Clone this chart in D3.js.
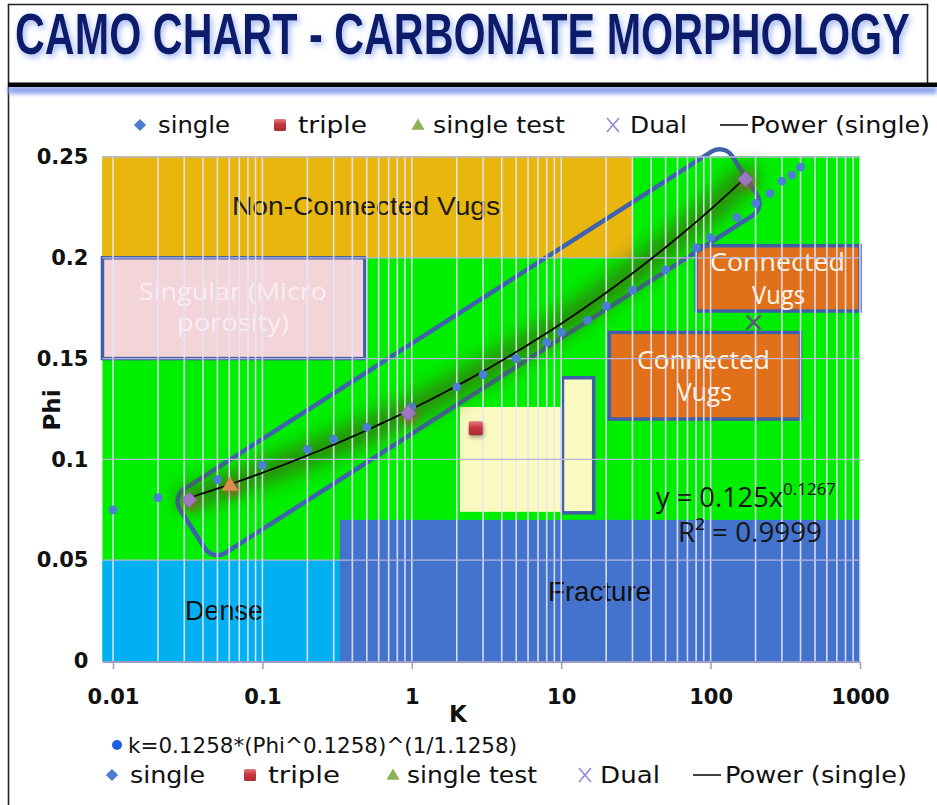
<!DOCTYPE html>
<html><head><meta charset="utf-8">
<script src="https://cdn.jsdelivr.net/npm/d3@7"></script>
<style>body{margin:0;background:#fff;overflow:hidden} svg{display:block}</style>
</head><body>
<script>
// ---------------- data ----------------
const xTicks = [0.01, 0.1, 1, 10, 100, 1000];
const xTickLabels = ["0.01", "0.1", "1", "10", "100", "1000"];
const yTicks = [0, 0.05, 0.1, 0.15, 0.2, 0.25];
const yTickLabels = ["0", "0.05", "0.1", "0.15", "0.2", "0.25"];

// k=0.1258*(Phi^0.1258)^(1/1.1258) series (blue dots)
const curveK   = [0.01, 0.02, 0.05, 0.1, 0.2, 0.3, 0.5, 1, 2, 3, 5, 8, 10, 15, 20, 30, 50, 80, 100, 150, 200, 250, 300, 350, 400];
const curvePhi = [0.075, 0.081, 0.090, 0.097, 0.105, 0.110, 0.116, 0.126, 0.136, 0.142, 0.150, 0.158, 0.163, 0.169, 0.176, 0.184, 0.194, 0.205, 0.210, 0.220, 0.227, 0.232, 0.238, 0.241, 0.245];

const singleK = [0.0324, 0.945, 171];
const singlePhi = [0.080, 0.123, 0.239];
const tripleK = [2.68];
const triplePhi = [0.1154];
const testK = [0.0607];
const testPhi = [0.0868];
const dualK = [194];
const dualPhi = [0.168];

// Power (single) trendline, as printed on the chart
const trendCoef = 0.125;
const trendExp = 0.1267;
const trendR2 = "0.9999";
const trendKRange = [0.0324, 171];

// background zones of the morphology chart
const zoneNames = ["", "Non-Connected Vugs", "Dense", "Fracture"];
const zoneK   = [[0.0085, 1000], [0.0085, 30], [0.0085, 0.33], [0.33, 1000]];
const zonePhi = [[0, 0.2505], [0.2, 0.2505], [0, 0.05], [0, 0.07]];

// outlined boxes
const boxNames = [["Singular (Micro", "porosity)"], ["Connected", "Vugs"], ["Connected", "Vugs"], [], []];
const boxK   = [[0.0085, 0.485], [80, 1000], [21, 400], [2.1, 10], [10.2, 16.5]];
const boxPhi = [[0.15, 0.2], [0.1736, 0.206], [0.12, 0.163], [0.074, 0.126], [0.0735, 0.1405]];

// rotated rounded band around the trend (centre line ends)
const bandK = [0.034, 169];
const bandPhi = [0.0655, 0.2408];

const legendLabels = ["single", "triple", "single test", "Dual", "Power (single)"];
const curveLegend = "k=0.1258*(Phi^0.1258)^(1/1.1258)";
const title = "CAMO CHART - CARBONATE MORPHOLOGY";

// ---------------- drawing ----------------
const W = 937, H = 805;
const svg = d3.select("body").append("svg").attr("width", W).attr("height", H);
const defs = svg.append("defs");

const x = d3.scaleLog().domain([0.01, 1000]).range([113, 860]);
const y = d3.scaleLinear().domain([0, 0.25]).range([661, 157]);

// filters
const f1 = defs.append("filter").attr("id", "titleGlow").attr("x", "-5%").attr("y", "-30%").attr("width", "110%").attr("height", "160%");
f1.append("feGaussianBlur").attr("in", "SourceAlpha").attr("stdDeviation", 3).attr("result", "b");
f1.append("feOffset").attr("in", "b").attr("dx", 2).attr("dy", 3).attr("result", "o");
f1.append("feFlood").attr("flood-color", "#7f9cf0").attr("flood-opacity", 0.75);
f1.append("feComposite").attr("in2", "o").attr("operator", "in").attr("result", "s");
const m1 = f1.append("feMerge"); m1.append("feMergeNode").attr("in", "s"); m1.append("feMergeNode").attr("in", "SourceGraphic");

const fb = defs.append("filter").attr("id", "blur8").attr("x", "-20%").attr("y", "-20%").attr("width", "140%").attr("height", "140%");
fb.append("feGaussianBlur").attr("stdDeviation", 9);
const fb2 = defs.append("filter").attr("id", "blur3").attr("x", "-50%").attr("y", "-50%").attr("width", "200%").attr("height", "200%");
fb2.append("feGaussianBlur").attr("stdDeviation", 3);
const fb3 = defs.append("filter").attr("id", "blur2").attr("x", "-50%").attr("y", "-50%").attr("width", "200%").attr("height", "200%");
fb3.append("feGaussianBlur").attr("stdDeviation", 2);

const gSq = defs.append("linearGradient").attr("id", "sq").attr("x1", 0).attr("y1", 0).attr("x2", 0).attr("y2", 1);
gSq.append("stop").attr("offset", "0%").attr("stop-color", "#e07a80");
gSq.append("stop").attr("offset", "45%").attr("stop-color", "#c8363f");
gSq.append("stop").attr("offset", "100%").attr("stop-color", "#a82a33");

// ---------- frame & title ----------
svg.append("path").attr("d", "M8.5,805 V4.5 H927.5 V86").attr("fill", "none").attr("stroke", "#222").attr("stroke-width", 1.6);
svg.append("rect").attr("x", 8).attr("y", 86).attr("width", 929).attr("height", 8).attr("fill", "#8fa6ee").attr("filter", "url(#blur2)");
svg.append("rect").attr("x", 8).attr("y", 82.5).attr("width", 929).attr("height", 4.5).attr("fill", "#050505");

const titleG = svg.append("g").attr("filter", "url(#titleGlow)");
const titleT = titleG.append("text").attr("x", 0).attr("y", 0)
  .attr("font-family", "Liberation Sans, Arial, sans-serif").attr("font-weight", "bold").attr("font-size", 57)
  .attr("fill", "#0c1a6b").text(title);
const natural = titleT.node().getComputedTextLength() || 1240;
titleT.attr("transform", `translate(15,54) scale(${895 / natural},1)`);

// ---------- background zones ----------
const plot = svg.append("g");
const zoneFill = ["#00ee00", "#e8b60c", "#00b0f0", "#4473cd"];
zoneK.forEach((kk, i) => {
  plot.append("rect")
    .attr("x", x(kk[0])).attr("width", x(kk[1]) - x(kk[0]))
    .attr("y", y(zonePhi[i][1])).attr("height", y(zonePhi[i][0]) - y(zonePhi[i][1]))
    .attr("fill", zoneFill[i]);
});

// boxes
const boxFill = ["#f3d4d9", "#e0701a", "#e0701a", "#fafac0", "#fafac0"];
const boxStroke = ["#3f5fa8", "#3f5fa8", "#3f5fa8", "none", "#3f5fa8"];
boxK.forEach((kk, i) => {
  plot.append("rect")
    .attr("x", x(kk[0])).attr("width", x(kk[1]) - x(kk[0]))
    .attr("y", y(boxPhi[i][1])).attr("height", y(boxPhi[i][0]) - y(boxPhi[i][1]))
    .attr("fill", boxFill[i]).attr("stroke", boxStroke[i]).attr("stroke-width", 3.5);
});

// zone & box texts
const ff = "Liberation Sans, Arial, sans-serif";
const fc = "Open Sans, Noto Sans, sans-serif";
function txt(g, s, px, py, o) {
  const t = g.append("text").attr("x", px).attr("y", py).text(s)
    .attr("font-family", o.ff || ff).attr("font-size", o.fs).attr("fill", o.fill || "#111")
    .attr("text-anchor", o.anchor || "start");
  if (o.len) t.attr("textLength", o.len).attr("lengthAdjust", "spacingAndGlyphs");
  if (o.op) t.attr("opacity", o.op);
  if (o.fw) t.attr("font-weight", o.fw);
  return t;
}
txt(plot, zoneNames[1], 232, 215, {fs: 26, len: 268, fill: "#1a1a1a"});
txt(plot, zoneNames[2], 185, 620, {fs: 27, len: 78, fill: "#111"});
txt(plot, zoneNames[3], 548, 601, {fs: 27, len: 103, fill: "#111"});

txt(plot, boxNames[0][0], 139, 300, {ff: fc, fs: 24, len: 188, fill: "#fbf0f6", op: 0.92});
txt(plot, boxNames[0][1], 177, 331, {ff: fc, fs: 24, len: 112, fill: "#fbf0f6", op: 0.92});
txt(plot, boxNames[1][0], 710, 271, {ff: fc, fs: 25, len: 135, fill: "#fff8f0"});
txt(plot, boxNames[1][1], 752, 304, {ff: fc, fs: 25, len: 53, fill: "#fff8f0"});
txt(plot, boxNames[2][0], 637, 369, {ff: fc, fs: 25, len: 133, fill: "#fff8f0"});
txt(plot, boxNames[2][1], 677, 401, {ff: fc, fs: 25, len: 55, fill: "#fff8f0"});

// rotated rounded band
(function () {
  const x1 = x(bandK[0]), y1 = y(bandPhi[0]), x2 = x(bandK[1]), y2 = y(bandPhi[1]);
  const cx = (x1 + x2) / 2, cy = (y1 + y2) / 2;
  const len = Math.hypot(x2 - x1, y2 - y1);
  const ang = Math.atan2(y2 - y1, x2 - x1) * 180 / Math.PI;
  const bw = 76;
  plot.append("rect").attr("x", -len / 2).attr("y", -bw / 2).attr("width", len).attr("height", bw)
    .attr("rx", 15).attr("ry", 15)
    .attr("transform", `translate(${cx},${cy}) rotate(${ang})`)
    .attr("fill", "none").attr("stroke", "#3f62ad").attr("stroke-width", 4.5);
})();

// trendline points from its printed equation
const trendPts = d3.range(0, 101).map(i => {
  const lk = Math.log10(trendKRange[0]) + (Math.log10(trendKRange[1]) - Math.log10(trendKRange[0])) * i / 100;
  const k = Math.pow(10, lk);
  return [k, trendCoef * Math.pow(k, trendExp)];
});
const line = d3.line().x(d => x(d[0])).y(d => y(d[1])).curve(d3.curveMonotoneX);

// glow under the trend
plot.append("path").attr("d", line(trendPts)).attr("fill", "none")
  .attr("stroke", "#37700f").attr("stroke-width", 26).attr("stroke-linecap", "round")
  .attr("opacity", 0.75).attr("filter", "url(#blur8)");

// ---------- grid ----------
const grid = svg.append("g");
grid.selectAll(".vg").data(x.ticks()).join("line")
  .attr("x1", d => x(d)).attr("x2", d => x(d)).attr("y1", y(0.2505)).attr("y2", y(0))
  .attr("stroke", "#e6e6fb").attr("stroke-width", 1.6).attr("opacity", 0.9);
grid.selectAll(".hg").data(yTicks.slice(1)).join("line")
  .attr("x1", x(0.0085)).attr("x2", x(1000)).attr("y1", d => y(d)).attr("y2", d => y(d))
  .attr("stroke", "#b7b7de").attr("stroke-width", 1.3);

// x axis
const xAxis = d3.axisBottom(x).tickValues(xTicks).tickFormat((d, i) => xTickLabels[i]).tickSize(7).tickPadding(20);
const gx = svg.append("g").attr("transform", `translate(0,${y(0) + 1})`).call(xAxis);
gx.select(".domain").attr("d", `M${x(0.0085)},0 H${x(1000)}`).attr("stroke", "#9d9dc6").attr("stroke-width", 2);
gx.selectAll(".tick line").attr("stroke", "#9d9dc6").attr("stroke-width", 1.5);
gx.selectAll(".tick text").attr("font-family", "DejaVu Sans, sans-serif").attr("font-weight", "bold")
  .attr("font-size", 21).attr("fill", "#111");

// y axis
const yAxis = d3.axisLeft(y).tickValues(yTicks).tickFormat((d, i) => yTickLabels[i]).tickSize(0).tickPadding(14);
const gy = svg.append("g").attr("transform", `translate(${x(0.0085)},0)`).call(yAxis);
gy.select(".domain").remove();
gy.selectAll(".tick text").attr("font-family", "DejaVu Sans, sans-serif").attr("font-weight", "bold")
  .attr("font-size", 21).attr("fill", "#111");

// axis titles
txt(svg, "K", 458, 722, {ff: "DejaVu Sans, sans-serif", fw: "bold", fs: 23, anchor: "middle"});
svg.append("text").attr("transform", "translate(60,410) rotate(-90)").attr("text-anchor", "middle")
  .attr("font-family", "DejaVu Sans, sans-serif").attr("font-weight", "bold").attr("font-size", 23).attr("fill", "#111").text("Phi");

// ---------- series ----------
const pts = svg.append("g");
// trendline
pts.append("path").attr("d", line(trendPts)).attr("fill", "none").attr("stroke", "#000").attr("stroke-width", 1.8);

// blue dots
pts.selectAll(".c").data(curveK).join("circle")
  .attr("cx", d => x(d)).attr("cy", (d, i) => y(curvePhi[i])).attr("r", 4.4).attr("fill", "#4a7fd4");

// single (diamonds)
const diamond = d3.symbol(d3.symbolDiamond2, 150);
pts.selectAll(".ss").data(singleK).join("circle")
  .attr("cx", d => x(d) + 2).attr("cy", (d, i) => y(singlePhi[i]) + 3).attr("r", 9)
  .attr("fill", "#b0503a").attr("opacity", 0.5).attr("filter", "url(#blur3)");
pts.selectAll(".s").data(singleK).join("path")
  .attr("d", diamond).attr("transform", (d, i) => `translate(${x(d)},${y(singlePhi[i])})`)
  .attr("fill", "#9a78c2").attr("stroke", "#8a62b0").attr("stroke-width", 0.8);

// single test (triangle)
const tri = d3.symbol(d3.symbolTriangle, 120);
pts.selectAll(".ts").data(testK).join("circle")
  .attr("cx", d => x(d) + 2).attr("cy", (d, i) => y(testPhi[i]) + 3).attr("r", 9)
  .attr("fill", "#a0502a").attr("opacity", 0.5).attr("filter", "url(#blur3)");
pts.selectAll(".t").data(testK).join("path")
  .attr("d", tri).attr("transform", (d, i) => `translate(${x(d)},${y(testPhi[i])})`)
  .attr("fill", "#d98c4c");

// triple (square)
pts.selectAll(".rs").data(tripleK).join("rect")
  .attr("x", d => x(d) - 6).attr("y", (d, i) => y(triplePhi[i]) - 5).attr("width", 14).attr("height", 14)
  .attr("fill", "#333").attr("opacity", 0.45).attr("filter", "url(#blur2)");
pts.selectAll(".r").data(tripleK).join("rect")
  .attr("x", d => x(d) - 7).attr("y", (d, i) => y(triplePhi[i]) - 7).attr("width", 14).attr("height", 14)
  .attr("rx", 2).attr("fill", "url(#sq)");

// dual (X)
pts.selectAll(".d").data(dualK).join("path")
  .attr("d", (d, i) => { const cx = x(d), cy = y(dualPhi[i]), s = 7; return `M${cx - s},${cy - s}L${cx + s},${cy + s}M${cx - s},${cy + s}L${cx + s},${cy - s}`; })
  .attr("stroke", "#5e5878").attr("stroke-width", 2.6).attr("fill", "none");

// equation label
const eq = svg.append("text").attr("x", 656).attr("y", 507).attr("font-family", fc).attr("font-size", 28).attr("fill", "#161616");
eq.append("tspan").text("y = 0.125x").attr("textLength", 127).attr("lengthAdjust", "spacingAndGlyphs");
eq.append("tspan").text(String(trendExp)).attr("font-size", 17).attr("dy", -12);
txt(svg, "R² = " + trendR2, 678, 542, {ff: fc, fs: 28, len: 144, fill: "#161616"});

// ---------- legends ----------
function legendSym(g, type, cx, cy, w) {
  if (type === 0) g.append("path").attr("d", d3.symbol(d3.symbolDiamond2, 95)).attr("transform", `translate(${cx},${cy})`).attr("fill", "#4a7ccf");
  if (type === 1) g.append("rect").attr("x", cx - 6).attr("y", cy - 6).attr("width", 12).attr("height", 12).attr("rx", 1.5).attr("fill", "url(#sq)");
  if (type === 2) g.append("path").attr("d", d3.symbol(d3.symbolTriangle, 75)).attr("transform", `translate(${cx},${cy + 1})`).attr("fill", "#8cb453");
  if (type === 3) g.append("path").attr("d", `M${cx - 6},${cy - 7}L${cx + 6},${cy + 7}M${cx - 6},${cy + 7}L${cx + 6},${cy - 7}`).attr("stroke", "#8e8ad6").attr("stroke-width", 1.6).attr("fill", "none");
  if (type === 4) g.append("line").attr("x1", cx).attr("x2", cx + w).attr("y1", cy).attr("y2", cy).attr("stroke", "#111").attr("stroke-width", 1.6);
}
function legend(cy, symX, txtX, fs, lens) {
  const g = svg.append("g");
  legendLabels.forEach((lab, i) => {
    legendSym(g, i, symX[i], cy, 28);
    g.append("text").attr("x", txtX[i]).attr("y", cy).attr("dy", "0.36em")
      .attr("font-family", "DejaVu Sans, sans-serif").attr("font-size", fs).attr("fill", "#111")
      .attr("textLength", lens[i]).attr("lengthAdjust", "spacingAndGlyphs").text(lab);
  });
}
legend(125, [140, 280, 418, 613, 720], [158, 298, 433, 630, 750], 23, [72, 69, 132, 57, 180]);

// bottom legends
svg.append("circle").attr("cx", 117).attr("cy", 745).attr("r", 5).attr("fill", "#1f5fe6");
svg.append("text").attr("x", 128).attr("y", 745).attr("dy", "0.36em").attr("font-family", "DejaVu Sans, sans-serif")
  .attr("font-size", 21).attr("fill", "#111").attr("textLength", 389).attr("lengthAdjust", "spacingAndGlyphs").text(curveLegend);
legend(775, [112, 250, 393, 585, 693], [130, 268, 407, 600, 725], 23, [75, 72, 130, 60, 182]);
</script>
</body></html>
